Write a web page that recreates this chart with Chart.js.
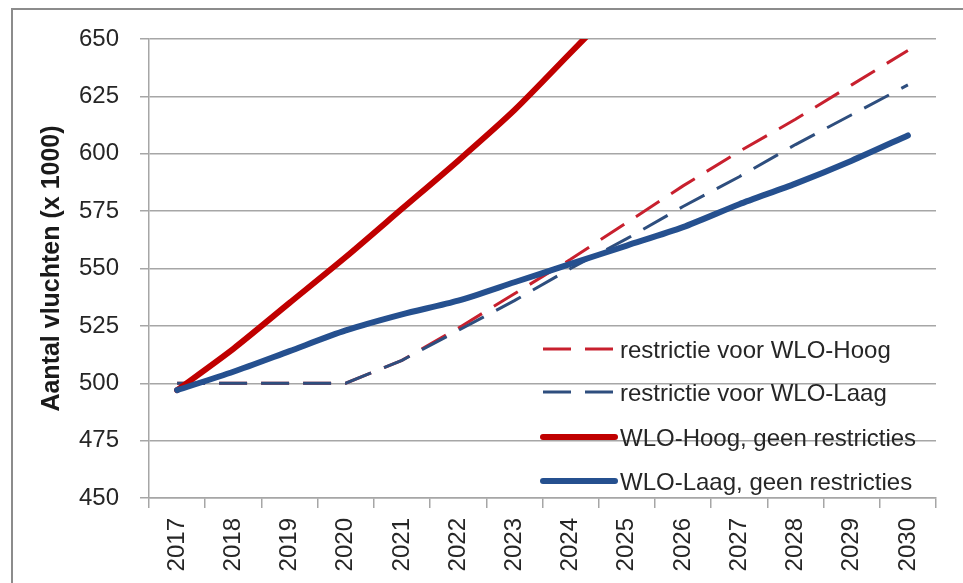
<!DOCTYPE html>
<html><head><meta charset="utf-8">
<script src="https://cdn.jsdelivr.net/npm/chart.js@4/dist/chart.umd.min.js"></script>
<style>
html,body{margin:0;padding:0;background:#fff;}
#wrap{position:relative;width:963px;height:583px;overflow:hidden;}
#frame{position:absolute;left:11px;top:8px;right:-5px;bottom:-5px;border-left:2px solid #8c8c8c;border-top:2px solid #8c8c8c;}
canvas{position:absolute;left:0;top:0;}
</style></head><body>
<div id="wrap"><div id="frame"></div><canvas id="c" width="963" height="583"></canvas></div>
<script>
const years = ['2017','2018','2019','2020','2021','2022','2023','2024','2025','2026','2027','2028','2029','2030'];
const restrictieHoog = [500,500,500,500,510,524,539,554,570,586,601,615,630,645];
const restrictieLaag = [500,500,500,500,510,523,536,550,563,577,590,604,617,630];
const hoogGeenRestricties = [497,515,535,555,576,597,619,644,669,null,null,null,null,null];
const laagGeenRestricties = [497,505,514,523,530,536,544,552,560,568,578,587,597,608];
const yTicks = [450,475,500,525,550,575,600,625,650];
const seriesLabels = ['restrictie voor WLO-Hoog','restrictie voor WLO-Laag','WLO-Hoog, geen restricties','WLO-Laag, geen restricties'];

const FONT = "'Liberation Sans', Arial, sans-serif";
const GRID = '#a6a6a6';

const legendPlugin = {
  id: 'customLegend',
  afterDraw(chart) {
    const ctx = chart.ctx;
    const a = chart.chartArea;
    const x0 = a.left + 394, x1 = a.left + 466, tx = a.left + 471;
    const rows = [a.top + 310, a.top + 353, a.top + 398, a.top + 442];
    ctx.save();
    chart.data.datasets.forEach((ds, i) => {
      const y = rows[i];
      ctx.beginPath();
      ctx.strokeStyle = ds.borderColor;
      ctx.lineWidth = ds.borderWidth;
      ctx.lineCap = ds.borderDash && ds.borderDash.length ? 'butt' : 'round';
      ctx.setLineDash(ds.borderDash || []);
      ctx.moveTo(x0, y);
      ctx.lineTo(x1, y);
      ctx.stroke();
      ctx.setLineDash([]);
      ctx.fillStyle = '#262626';
      ctx.font = '24px ' + FONT;
      ctx.textBaseline = 'middle';
      ctx.textAlign = 'left';
      ctx.fillText(ds.label, tx, y + 2);
    });
    ctx.restore();
  }
};

new Chart(document.getElementById('c'), {
  type: 'line',
  data: {
    labels: years,
    datasets: [
      {label: seriesLabels[0], data: restrictieHoog, borderColor: '#c8202e', borderWidth: 3, borderDash: [28, 14], pointRadius: 0, tension: 0, order: 3, fill: false},
      {label: seriesLabels[1], data: restrictieLaag, borderColor: '#2e4e7e', borderWidth: 3, borderDash: [28, 14], pointRadius: 0, tension: 0, order: 2, fill: false},
      {label: seriesLabels[2], data: hoogGeenRestricties, borderColor: '#c00000', borderWidth: 6, pointRadius: 0, tension: 0.25, borderCapStyle: 'round', borderJoinStyle: 'round', order: 1, fill: false},
      {label: seriesLabels[3], data: laagGeenRestricties, borderColor: '#25508f', borderWidth: 6, pointRadius: 0, tension: 0.25, borderCapStyle: 'round', borderJoinStyle: 'round', order: 0, fill: false}
    ]
  },
  options: {
    responsive: false,
    animation: false,
    layout: {padding: {left: 0, right: 27, top: 39, bottom: 0}},
    plugins: {legend: {display: false}, tooltip: {enabled: false}},
    scales: {
      x: {
        offset: true,
        grid: {offset: true, drawOnChartArea: false, drawTicks: true, tickLength: 10, color: GRID, lineWidth: 1.5},
        border: {display: true, color: GRID, width: 1.5},
        ticks: {maxRotation: 90, minRotation: 90, padding: 10, color: '#262626', font: {family: FONT, size: 24}, autoSkip: false},
        afterFit(s) { s.height = 85; }
      },
      y: {
        min: 450, max: 650,
        afterBuildTicks(s) { s.ticks = yTicks.map(v => ({value: v})); },
        grid: {color: GRID, lineWidth: 1.5, tickLength: 9, drawTicks: true},
        border: {display: true, color: GRID, width: 1.5},
        ticks: {padding: 21, color: '#262626', font: {family: FONT, size: 24}},
        title: {display: true, text: 'Aantal vluchten (x 1000)', color: '#1a1a1a', font: {family: FONT, size: 25, weight: 'bold'}, padding: {top: 37, bottom: 0}},
        afterFit(s) { s.width = 149; }
      }
    }
  },
  plugins: [legendPlugin]
});
</script>
</body></html>
